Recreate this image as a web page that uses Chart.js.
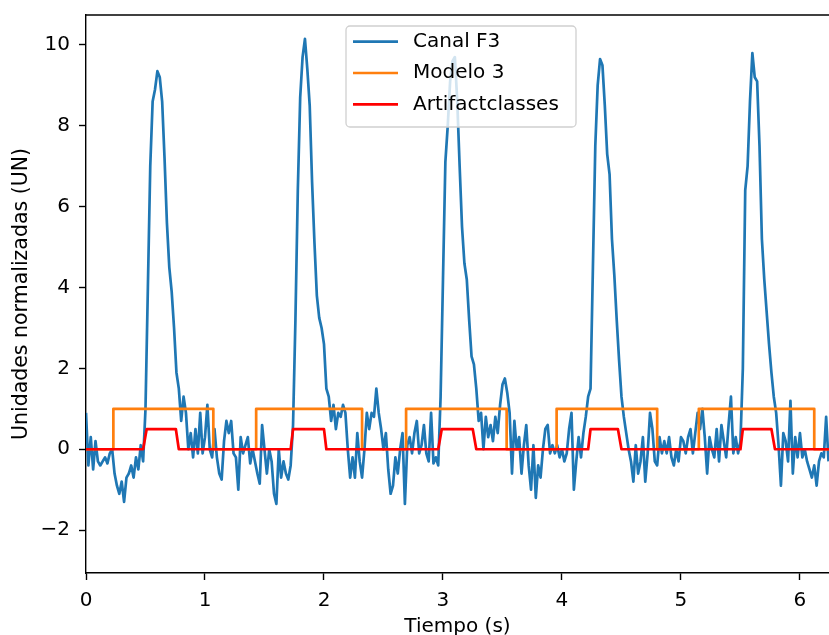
<!DOCTYPE html>
<html>
<head>
<meta charset="utf-8">
<script src="https://cdn.jsdelivr.net/npm/chart.js@4.4.1/dist/chart.umd.min.js"></script>
<style>
  html, body { margin: 0; padding: 0; background: #fff; overflow: hidden; }
  canvas { display: block; }
</style>
</head>
<body>
<canvas id="grafico" width="829" height="635"></canvas>
<script>
// Canal F3 normalizado, una muestra cada 0.02 s desde t = 0
var pasoMuestra = 0.02;
var canalF3 = [
	0.9, -0.4, 0.3, -0.5, 0.2, -0.3, -0.4, -0.3, -0.2, -0.35,
	-0.1, 0.0, -0.6, -0.9, -1.1, -0.8, -1.3, -0.7, -0.6, -0.4,
	-0.7, -0.2, -0.5, 0.1, -0.3, 1.0, 4.0, 7.0, 8.6, 8.9,
	9.35, 9.2, 8.6, 7.2, 5.6, 4.5, 3.9, 3.0, 1.9, 1.5,
	0.7, 1.3, 0.9, 0.0, 0.4, -0.2, 0.5, -0.1, 0.9, -0.1,
	0.3, 1.1, 0.0, -0.2, 0.5, -0.2, -0.6, -0.75, 0.2, 0.7,
	0.4, 0.7, -0.1, -0.2, -1.0, 0.3, -0.1, 0.1, 0.3, -0.35,
	0.0, -0.3, -0.6, -0.85, 0.6, 0.0, -0.6, 0.0, -0.3, -1.1,
	-1.35, 0.0, -0.7, -0.3, -0.6, -0.75, -0.4, 0.6, 3.2, 6.4,
	8.7, 9.7, 10.15, 9.4, 8.5, 6.6, 5.1, 3.8, 3.25, 3.0,
	2.6, 1.5, 1.3, 0.7, 1.1, 0.5, 0.9, 0.8, 1.1, 0.9,
	0.0, -0.7, -0.2, -0.7, 0.4, -0.3, -0.7, 0.0, 0.9, 0.5,
	0.9, 0.8, 1.5, 0.9, 0.5, 0.0, 0.4, -0.5, -1.1, -0.9,
	-0.2, -0.6, 0.0, 0.4, -1.35, 0.1, 0.3, -0.1, 0.4, 0.7,
	-0.1, 0.1, 0.6, -0.1, -0.3, 0.9, -0.35, -0.2, -0.4, 1.3,
	4.2, 7.1, 8.0, 9.1, 9.6, 9.7, 8.6, 7.0, 5.5, 4.6,
	4.2, 3.2, 2.3, 2.1, 1.5, 0.7, 0.9, 0.0, 0.8, 0.3,
	0.6, 0.2, 0.8, 0.4, 1.1, 1.6, 1.75, 1.4, 0.9, -0.6,
	0.7, 0.0, 0.3, -0.6, 0.1, 0.6, -0.4, -1.0, 0.1, -1.2,
	-0.4, -0.7, 0.0, 0.5, 0.6, -0.1, 0.1, -0.1, 0.1, -0.2,
	0.0, -0.3, -0.1, 0.5, 0.9, -1.0, -0.3, 0.3, -0.2, 0.4,
	0.8, 1.3, 1.5, 4.5, 7.5, 9.0, 9.65, 9.5, 8.5, 7.3,
	6.8, 5.2, 4.3, 3.2, 2.2, 1.3, 0.8, 0.4, 0.0, -0.3,
	-0.8, 0.1, -0.6, -0.3, 0.3, -0.8, -0.1, 0.9, 0.5, -0.3,
	-0.4, 0.3, -0.1, 0.2, -0.1, 0.3, -0.2, -0.4, 0.0, -0.3,
	0.3, 0.2, -0.1, 0.3, 0.5, -0.1, 0.4, 0.9, 0.5, 1.0,
	0.3, -0.6, 0.3, 0.0, -0.2, 0.5, -0.3, 0.6, 0.2, -0.2,
	0.6, 1.3, -0.1, 0.3, -0.1, 0.2, 2.0, 6.4, 7.0, 8.6,
	9.8, 9.2, 9.1, 7.5, 5.2, 4.2, 3.4, 2.6, 1.9, 1.3,
	0.9, 0.1, -0.9, 0.4, 0.2, -0.3, 1.2, -0.6, 0.3, -0.2,
	0.4, -0.2, 0.0, -0.3, -0.5, -0.7, -0.4, -0.9, -0.3, -0.1,
	-0.2, 0.8, -0.3
];

// Modelo 3: intervalos [inicio, fin] en los que vale 1
var modelo3 = [[0.23, 1.07], [1.43, 2.32], [2.69, 3.535], [3.955, 4.80], [5.15, 6.12]];
var modelo3Nivel = 1;

// Artifactclasses: [empieza a subir, arriba, empieza a bajar, abajo]
var artefactos = [
	[0.48, 0.51, 0.755, 0.78],
	[1.72, 1.74, 2.00, 2.02],
	[2.96, 2.99, 3.25, 3.28],
	[4.22, 4.24, 4.47, 4.50],
	[5.50, 5.52, 5.76, 5.79]
];
var artefactoNivel = 0.5;

var tiempoFin = 6.25;
var xTicks = [0, 1, 2, 3, 4, 5, 6];
var yTicks = [-2, 0, 2, 4, 6, 8, 10];

var fuente = 'DejaVu Sans';

function puntosModelo(intervalos, nivel){
	var pts = [{x: 0, y: 0}];
	intervalos.forEach(function(iv){
		pts.push({x: iv[0], y: 0}, {x: iv[0], y: nivel}, {x: iv[1], y: nivel}, {x: iv[1], y: 0});
	});
	pts.push({x: tiempoFin, y: 0});
	return pts;
}

function puntosArtefacto(tramos, nivel){
	var pts = [{x: 0, y: 0}];
	tramos.forEach(function(t){
		pts.push({x: t[0], y: 0}, {x: t[1], y: nivel}, {x: t[2], y: nivel}, {x: t[3], y: 0});
	});
	pts.push({x: tiempoFin, y: 0});
	return pts;
}

var puntosF3 = canalF3.map(function(v, i){
	return {x: i * pasoMuestra, y: v};
});

// marco superior del eje (los otros dos lados los pinta cada escala)
var marcoSuperior = {
	id: 'marcoSuperior',
	afterDraw: function(chart){
		var a = chart.chartArea, ctx = chart.ctx;
		ctx.save();
		ctx.strokeStyle = '#000';
		ctx.lineWidth = 1.4;
		ctx.beginPath();
		ctx.moveTo(a.left - 0.7, a.top);
		ctx.lineTo(a.right, a.top);
		ctx.stroke();
		ctx.restore();
	}
};

// leyenda en caja dentro del area, estilo matplotlib
var leyendaCaja = {
	id: 'leyendaCaja',
	afterDraw: function(chart, args, o){
		var ctx = chart.ctx;
		ctx.save();
		ctx.beginPath();
		ctx.roundRect(o.x, o.y, o.w, o.h, 4);
		ctx.fillStyle = 'rgba(255,255,255,0.8)';
		ctx.fill();
		ctx.strokeStyle = '#d0d0d0';
		ctx.lineWidth = 1.3;
		ctx.stroke();
		ctx.font = o.size + 'px "' + fuente + '"';
		ctx.textBaseline = 'middle';
		ctx.textAlign = 'left';
		chart.data.datasets.forEach(function(ds, i){
			var y = o.y + o.primera + i * o.salto;
			ctx.strokeStyle = ds.borderColor;
			ctx.lineWidth = ds.borderWidth;
			ctx.beginPath();
			ctx.moveTo(o.x + 7, y);
			ctx.lineTo(o.x + 52, y);
			ctx.stroke();
			ctx.fillStyle = '#000';
			ctx.fillText(ds.label, o.x + 67, y);
		});
		ctx.restore();
	}
};

new Chart(document.getElementById('grafico'), {
	type: 'line',
	data: {
		datasets: [
			{
				label: 'Canal F3',
				data: puntosF3,
				borderColor: '#1f77b4',
				borderWidth: 2.7,
				order: 3
			},
			{
				label: 'Modelo 3',
				data: puntosModelo(modelo3, modelo3Nivel),
				borderColor: '#ff7f0e',
				borderWidth: 2.7,
				order: 2
			},
			{
				label: 'Artifactclasses',
				data: puntosArtefacto(artefactos, artefactoNivel),
				borderColor: '#ff0000',
				borderWidth: 2.7,
				order: 1
			}
		]
	},
	options: {
		responsive: false,
		animation: false,
		devicePixelRatio: 1,
		elements: {
			point: { radius: 0, hoverRadius: 0 },
			line: { tension: 0, borderJoinStyle: 'round', fill: false }
		},
		layout: { padding: { top: 15, right: 0, left: 0, bottom: 0 } },
		scales: {
			x: {
				type: 'linear',
				min: 0,
				max: 6.244,
				afterFit: function(s){ s.height = 62; s.paddingLeft = 0; s.paddingRight = 0; },
				afterBuildTicks: function(s){ s.ticks = xTicks.map(function(v){ return {value: v}; }); },
				grid: { display: true, drawOnChartArea: false, drawTicks: true, tickLength: 7, tickWidth: 1.4, tickColor: '#000' },
				border: { display: true, color: '#000', width: 1.4 },
				ticks: { color: '#000', padding: 9, font: { family: fuente, size: 20 }, maxRotation: 0 },
				title: { display: true, text: 'Tiempo (s)', color: '#000', padding: 0, font: { family: fuente, size: 20, lineHeight: 0.8 } }
			},
			y: {
				min: -3.06,
				max: 10.74,
				afterFit: function(s){ s.width = 86; s.paddingTop = 0; s.paddingBottom = 0; },
				afterBuildTicks: function(s){ s.ticks = yTicks.map(function(v){ return {value: v}; }); },
				grid: { display: true, drawOnChartArea: false, drawTicks: true, tickLength: 7, tickWidth: 1.4, tickColor: '#000' },
				border: { display: true, color: '#000', width: 1.4 },
				ticks: {
					color: '#000', padding: 9, font: { family: fuente, size: 20 },
					callback: function(v){ return v < 0 ? '\u2212' + Math.abs(v) : '' + v; }
				},
				title: { display: true, text: 'Unidades normalizadas (UN)', color: '#000', padding: { top: 11, bottom: 0 }, font: { family: fuente, size: 20.5, lineHeight: 1 } }
			}
		},
		plugins: {
			legend: { display: false },
			tooltip: { enabled: false },
			leyendaCaja: { x: 346, y: 26, w: 230, h: 101, primera: 15.7, salto: 31.3, size: 20 }
		}
	},
	plugins: [marcoSuperior, leyendaCaja]
});
</script>
</body>
</html>
